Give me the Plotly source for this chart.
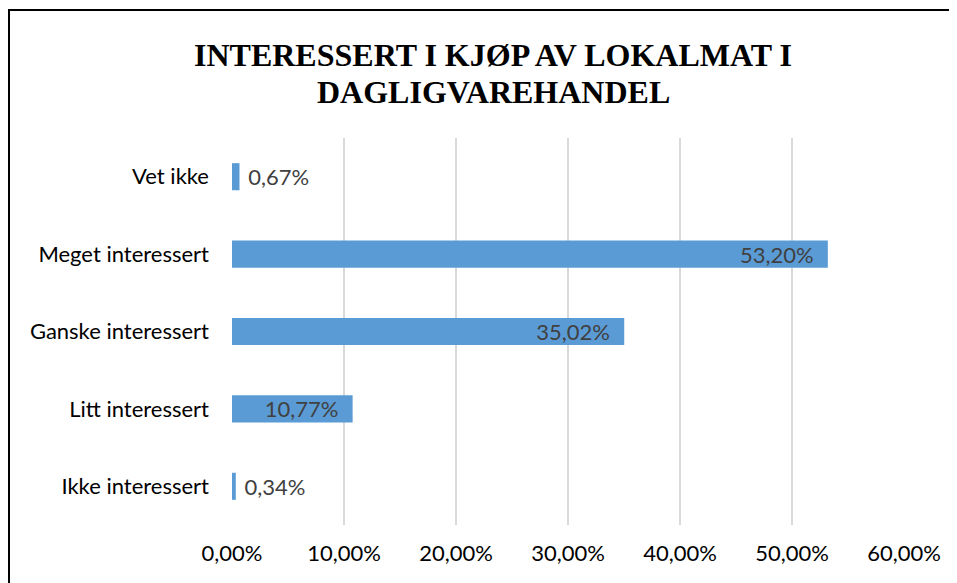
import plotly.graph_objects as go

categories = ["Ikke interessert", "Litt interessert", "Ganske interessert", "Meget interessert", "Vet ikke"]
shares = [0.34, 10.77, 35.02, 53.20, 0.67]
x_ticks = [0, 10, 20, 30, 40, 50, 60]
x_tick_labels = ["0,00%", "10,00%", "20,00%", "30,00%", "40,00%", "50,00%", "60,00%"]
title_lines = ["INTERESSERT I KJØP AV LOKALMAT I", "DAGLIGVAREHANDEL"]

# page body has an 8px margin, so the figure sits at (8, 8) in the window
W, H = 949, 575
L, T = 224, 130
PW, PH = 672, 387

fig = go.Figure(go.Bar(
    x=shares, y=categories, orientation="h",
    marker=dict(color="#5B9BD5", line=dict(width=0)),
    width=0.35,
    texttemplate="\u00a0%{x:.2f}%\u00a0\u00a0", textposition="auto",
    insidetextanchor="end", constraintext="none",
    insidetextfont=dict(color="#404040", size=22, family="Lato"),
    outsidetextfont=dict(color="#404040", size=22, family="Lato"),
    cliponaxis=False,
))

fig.update_layout(
    width=W, height=H,
    margin=dict(l=L, r=W - L - PW, t=T, b=H - T - PH, pad=0),
    plot_bgcolor="white", paper_bgcolor="white",
    separators=", ",
    showlegend=False,
    font=dict(family="Lato", size=22, color="black"),
)
for line, ypix in zip(title_lines, [47, 84]):
    fig.add_annotation(
        text=line, xref="paper", yref="paper",
        x=(485 - L) / PW, y=(T + PH - ypix) / PH,
        xanchor="center", yanchor="middle", showarrow=False,
        font=dict(family="Liberation Serif", size=32, color="black", weight="bold"),
    )
fig.update_xaxes(
    range=[0, 60], tickvals=x_ticks, ticktext=x_tick_labels,
    showgrid=True, gridcolor="#D9D9D9", gridwidth=2, zeroline=False,
    showline=False, ticks="", ticklabelstandoff=13,
)
fig.update_yaxes(
    showgrid=False, zeroline=False, showline=False, ticks="",
    ticklabelstandoff=22,
)
fig.add_shape(type="rect", xref="paper", yref="paper",
              x0=(1 - L) / PW, x1=(948 - L) / PW,
              y0=-0.3, y1=(T + PH - 2) / PH,
              line=dict(color="black", width=2), layer="below")

fig.write_html("out.html")
